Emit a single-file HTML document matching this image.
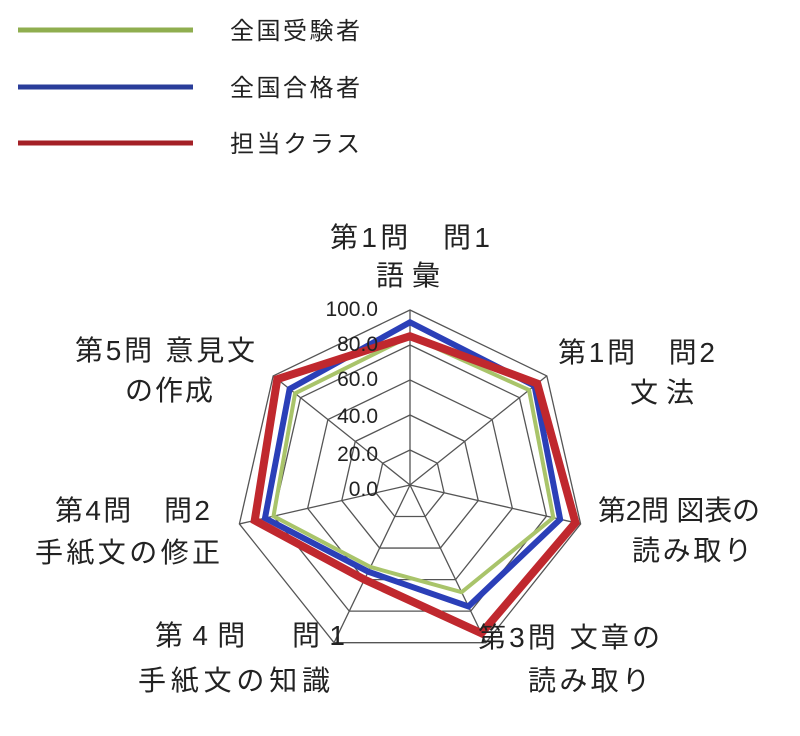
<!DOCTYPE html>
<html><head><meta charset="utf-8"><style>
html,body{margin:0;padding:0;background:#fff;}
svg{display:block;}
text{font-family:"Liberation Sans","Noto Sans CJK JP",sans-serif;fill:#222;}
</style></head><body>
<svg width="800" height="736" viewBox="0 0 800 736" xmlns="http://www.w3.org/2000/svg">
<line x1="18" y1="30" x2="193" y2="30" stroke="#8fae4f" stroke-width="5"/>
<line x1="18" y1="87" x2="193" y2="87" stroke="#2a3d9a" stroke-width="5"/>
<line x1="18" y1="143" x2="193" y2="143" stroke="#a42026" stroke-width="5"/>
<text x="230" y="39" font-size="24" textLength="130">全国受験者</text>
<text x="230" y="96" font-size="24" textLength="130">全国合格者</text>
<text x="230" y="152" font-size="24" textLength="130">担当クラス</text>
<g id="grid" fill="none" stroke="#555" stroke-width="1.3"></g>
<g id="data" fill="none" stroke-linejoin="miter"></g>
<g font-size="21" text-anchor="end" fill="#333">
<text x="378" y="316">100.0</text>
<text x="378" y="351">80.0</text>
<text x="378" y="386">60.0</text>
<text x="378" y="423">40.0</text>
<text x="378" y="461">20.0</text>
<text x="378" y="496">0.0</text>
</g>
<g font-size="28">
<text x="330" y="247" textLength="160">第1問　問1</text>
<text x="376" y="285" textLength="64">語彙</text>
<text x="558" y="362" textLength="157">第1問　問2</text>
<text x="630" y="402" textLength="64">文法</text>
<text x="598" y="520" textLength="162">第2問 図表の</text>
<text x="632" y="560" textLength="120">読み取り</text>
<text x="478" y="647" textLength="182">第3問 文章の</text>
<text x="528" y="690" textLength="122">読み取り</text>
<text x="155" y="645" textLength="190">第4問　問1</text>
<text x="138" y="690" textLength="192">手紙文の知識</text>
<text x="55" y="520" textLength="155">第4問　問2</text>
<text x="35" y="562" textLength="185">手紙文の修正</text>
<text x="75" y="360" textLength="180">第5問 意見文</text>
<text x="125" y="400" textLength="88">の作成</text>
</g>
</svg>
<script>
(function(){
var cx=410,cy=485,R=175,ns="http://www.w3.org/2000/svg";
function pt(k,f){var a=k*2*Math.PI/7;return [cx+R*f*Math.sin(a),cy-R*f*Math.cos(a)];}
var g=document.getElementById('grid');
for(var r=1;r<=5;r++){var p=[];for(var k=0;k<7;k++)p.push(pt(k,r/5).join(','));
var e=document.createElementNS(ns,'polygon');e.setAttribute('points',p.join(' '));g.appendChild(e);}
for(var k=0;k<7;k++){var q=pt(k,1);var l=document.createElementNS(ns,'line');
l.setAttribute('x1',cx);l.setAttribute('y1',cy);l.setAttribute('x2',q[0]);l.setAttribute('y2',q[1]);g.appendChild(l);}
var d=document.getElementById('data');
var sets=[[[.85,.87,.84,.68,.52,.80,.84],'#a9c46a',4],[[.93,.91,.88,.77,.55,.85,.88],'#2b3fb8',6],[[.85,.93,.97,.94,.60,.91,.97],'#c0282e',8]];
sets.forEach(function(s){var p=[];for(var k=0;k<7;k++)p.push(pt(k,s[0][k]).join(','));
var e=document.createElementNS(ns,'polygon');e.setAttribute('points',p.join(' '));
e.setAttribute('stroke',s[1]);e.setAttribute('stroke-width',s[2]);d.appendChild(e);});
})();
</script>
</body></html>
